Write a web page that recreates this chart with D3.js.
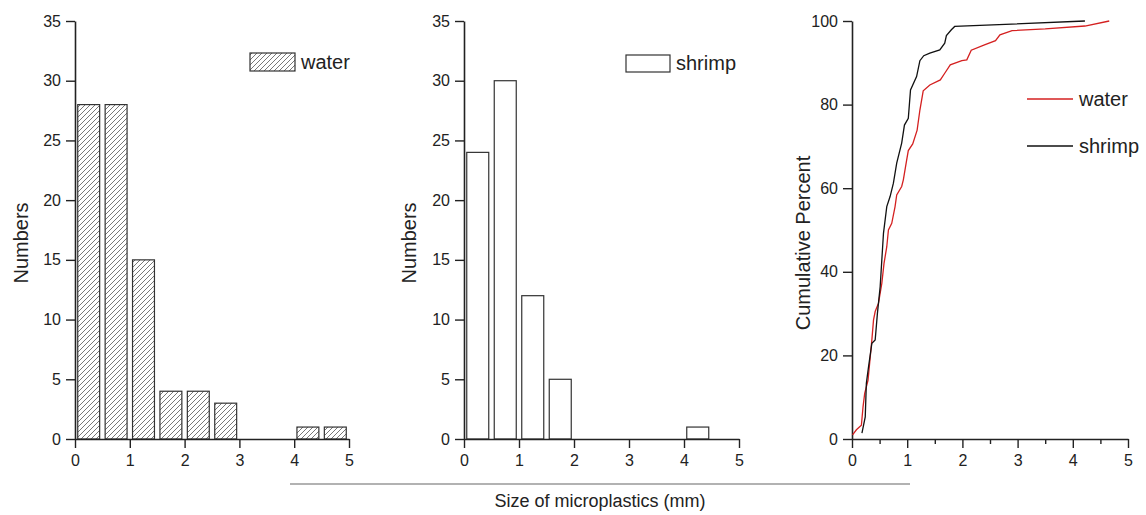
<!DOCTYPE html>
<html><head><meta charset="utf-8">
<script src="https://cdn.jsdelivr.net/npm/d3@7"></script>
<style>
body{margin:0;background:#fff;}
svg{display:block;font-family:"Liberation Sans",Arial,sans-serif;}
</style></head>
<body><svg id="c" width="1146" height="515"></svg>
<script>
// ---- data ----
const binStarts = [0,0.5,1,1.5,2,2.5,3,3.5,4,4.5];
const waterCounts = [28,28,15,4,4,3,0,0,1,1];
const shrimpCounts = [24,30,12,5,0,0,0,0,1,0];
const countTicks = [0,5,10,15,20,25,30,35];
const sizeTicks = [0,1,2,3,4,5];
const pctTicks = [0,20,40,60,80,100];
const waterCumSize = [0.01,0.08,0.17,0.2,0.23,0.29,0.36,0.39,0.42,0.48,0.54,0.58,0.63,0.66,0.72,0.78,0.81,0.9,0.93,0.99,1.02,1.1,1.18,1.23,1.29,1.41,1.6,1.68,1.78,1.99,2.08,2.16,2.4,2.6,2.68,2.9,3.5,4.22,4.66];
const waterCumPct  = [1,2.2,3.3,7.7,10.9,14,23.7,28.5,30.5,32.5,37.2,42,46,50,51.6,55.6,58.4,60.4,62,66.7,69,70.6,73.9,78.7,83.3,84.7,85.9,87.5,89.5,90.5,90.7,93,94.3,95.3,96.7,97.7,98.1,98.8,100];
const shrimpCumSize = [0.18,0.24,0.26,0.3,0.36,0.42,0.46,0.51,0.54,0.57,0.63,0.69,0.75,0.81,0.9,0.95,1.02,1.06,1.17,1.23,1.3,1.41,1.59,1.68,1.71,1.8,1.86,4.22];
const shrimpCumPct  = [1.4,5.3,13.3,17.3,22.9,23.7,30,36.4,42.8,49.2,55.6,58,61.2,66,70.8,75.1,76.7,83.5,86.7,90.5,91.7,92.3,93.1,94.7,96.5,97.9,98.7,100];
const binWidth = 0.5;

const svg = d3.select("#c");
const defs = svg.append("defs");
const pat = defs.append("pattern").attr("id","hatch").attr("patternUnits","userSpaceOnUse")
  .attr("width",5).attr("height",5);
pat.append("rect").attr("width",5).attr("height",5).attr("fill","#fff");
pat.append("path").attr("d","M-1,1 L1,-1 M0,5 L5,0 M4,6 L6,4").attr("stroke","#555").attr("stroke-width",0.8);

const yTop = 21, yBot = 439;
const fontTick = 16;

function axisStyle(g){
  g.selectAll(".domain").attr("stroke","#222").attr("stroke-width",1.6);
  g.selectAll(".tick line").attr("stroke","#222").attr("stroke-width",1.4);
  g.selectAll(".tick text").attr("fill","#222").attr("font-size",fontTick).attr("font-family","Liberation Sans, Arial, sans-serif");
}

function histPanel(x0, x1, counts, filled, yLabelX, legendBox, legendText){
  const x = d3.scaleLinear().domain([0,5]).range([x0,x1]);
  const y = d3.scaleLinear().domain([0,35]).range([yBot,yTop]);
  const g = svg.append("g");
  g.selectAll("rect.bar").data(binStarts.map((b,i)=>({b,c:counts[i]})).filter(d=>d.c>0))
    .enter().append("rect").attr("class","bar")
    .attr("x",d=>x(d.b+0.05)).attr("width",d=>x(d.b+binWidth-0.05)-x(d.b+0.05))
    .attr("y",d=>y(d.c)).attr("height",d=>y(0)-y(d.c))
    .attr("fill",filled?"url(#hatch)":"#fff").attr("stroke","#333").attr("stroke-width",1.2);
  const gx = g.append("g").attr("transform",`translate(0,${yBot})`)
    .call(d3.axisBottom(x).tickValues(sizeTicks).tickSize(9).tickPadding(7).tickSizeOuter(0).tickFormat(d3.format("d")));
  axisStyle(gx);
  const gy = g.append("g").attr("transform",`translate(${x0},0)`)
    .call(d3.axisLeft(y).tickValues(countTicks).tickSize(9).tickPadding(5).tickSizeOuter(0));
  axisStyle(gy);
  g.append("text").attr("transform",`translate(${yLabelX},243) rotate(-90)`).attr("text-anchor","middle")
    .attr("font-size",20).attr("fill","#222").text("Numbers");
  g.append("rect").attr("x",legendBox[0]).attr("y",legendBox[1]).attr("width",legendBox[2]).attr("height",legendBox[3])
    .attr("fill",filled?"url(#hatch)":"#fff").attr("stroke","#333").attr("stroke-width",1.2);
  g.append("text").attr("x",legendBox[0]+legendBox[2]+6).attr("y",legendBox[1]+legendBox[3]-2)
    .attr("font-size",20).attr("fill","#222").text(legendText);
}

histPanel(75,349,waterCounts,true,28,[250,53,45,18],"water");
histPanel(464,739,shrimpCounts,false,416,[626,55,44,17],"shrimp");

// cumulative panel
{
  const x = d3.scaleLinear().domain([0,5]).range([852,1128]);
  const y = d3.scaleLinear().domain([0,100]).range([yBot,yTop]);
  const g = svg.append("g");
  const gx = g.append("g").attr("transform",`translate(0,${yBot})`)
    .call(d3.axisBottom(x).tickValues(d3.range(0,5.01,0.5)).tickSize(9).tickPadding(7).tickSizeOuter(0)
      .tickFormat(d=>Number.isInteger(d)?d:""));
  axisStyle(gx);
  gx.selectAll(".tick").filter(d=>!Number.isInteger(d)).select("line").attr("y2",5);
  const gy = g.append("g").attr("transform",`translate(852,0)`)
    .call(d3.axisLeft(y).tickValues(pctTicks).tickSize(9).tickPadding(5).tickSizeOuter(0));
  axisStyle(gy);
  const line = d3.line().x(d=>x(d[0])).y(d=>y(d[1]));
  g.append("path").datum(waterCumSize.map((s,i)=>[s,waterCumPct[i]]))
    .attr("d",line).attr("fill","none").attr("stroke","#d42020").attr("stroke-width",1.3);
  g.append("path").datum(shrimpCumSize.map((s,i)=>[s,shrimpCumPct[i]]))
    .attr("d",line).attr("fill","none").attr("stroke","#111").attr("stroke-width",1.3);
  g.append("text").attr("transform",`translate(810,243) rotate(-90)`).attr("text-anchor","middle")
    .attr("font-size",20).attr("fill","#222").text("Cumulative Percent");
  const leg = [["water","#d42020",99],["shrimp","#111",146]];
  leg.forEach(([t,c,yy])=>{
    g.append("line").attr("x1",1027).attr("x2",1073).attr("y1",yy).attr("y2",yy).attr("stroke",c).attr("stroke-width",1.3);
    g.append("text").attr("x",1079).attr("y",yy+7).attr("font-size",20).attr("fill","#222").text(t);
  });
}

// shared x label
svg.append("line").attr("x1",290).attr("x2",910).attr("y1",484).attr("y2",484).attr("stroke","#666").attr("stroke-width",1.2);
svg.append("text").attr("x",600).attr("y",507).attr("text-anchor","middle").attr("font-size",18).attr("fill","#222")
  .text("Size of microplastics (mm)");
</script></body></html>
